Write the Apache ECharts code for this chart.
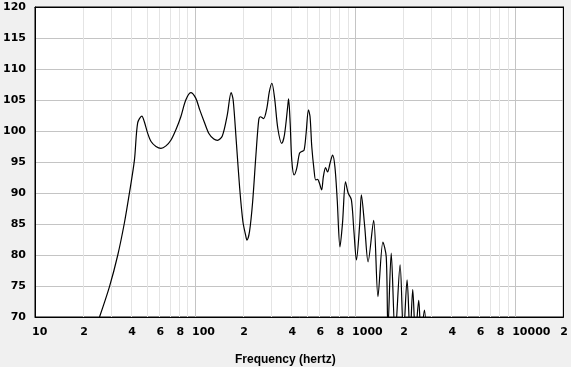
<!DOCTYPE html>
<html>
<head>
<meta charset="utf-8">
<script src="https://cdn.jsdelivr.net/npm/echarts@6/dist/echarts.min.js"></script>
<style>
html, body { margin: 0; padding: 0; background: #f0f0f0; }
#chart { width: 571px; height: 367px; }
</style>
</head>
<body>
<div id="chart"></div>
<script>
// frequency response
const freqHz = [25.3, 29.2, 32.9, 36.2, 38.9, 41.8, 43.8, 46.5, 48.2, 50.5, 53.1, 57.0, 61.2, 65.8, 70.6, 75.9, 81.5, 87.5, 94.0, 101,
  107, 114, 122, 131, 138, 148, 159, 168, 173, 181, 190, 199, 207, 211, 219, 229, 240, 250, 256, 268,
  281, 291, 302, 314, 329, 348, 362, 380, 384, 393, 402, 416, 432, 449, 464, 480, 494, 511, 523, 536,
  554, 567, 583, 598, 618, 633, 654, 673, 697, 723, 748, 773, 804, 834, 871, 905, 948, 982, 1019, 1069,
  1094, 1148, 1205, 1306, 1389, 1492, 1565, 1603, 1681, 1779, 1910, 2005, 2112, 2206, 2291, 2382, 2497, 2582, 2711, 2800]
const levelDb = [70.0, 74.9, 80.0, 85.2, 90.0, 95.3, 101.3, 102.4, 101.5, 99.7, 98.3, 97.5, 97.2, 97.6, 98.5, 100.2, 102.3, 105.0, 106.2, 105.3,
  103.4, 101.5, 99.6, 98.7, 98.5, 99.2, 102.6, 106.2, 105.0, 98.3, 90.8, 85.4, 83.2, 82.4, 83.8, 88.6, 96.1, 101.8, 102.3, 102.0,
  103.7, 106.3, 107.7, 105.3, 100.4, 98.0, 99.4, 104.2, 105.2, 101.2, 95.3, 92.9, 94.0, 96.4, 96.7, 96.9, 99.6, 103.4, 102.3, 97.5,
  93.7, 92.1, 92.2, 91.6, 90.5, 92.6, 94.1, 93.4, 94.8, 96.1, 94.2, 88.9, 81.3, 85.1, 91.8, 90.0, 88.9, 84.0, 79.2, 85.1,
  89.7, 84.6, 78.9, 85.6, 73.3, 82.1, 79.7, 68, 80.3, 67, 78.4, 67, 76.0, 67, 74.4, 67, 72.7, 67, 71.1, 66]

// axis ticks
const xLabelValues = [10, 20, 40, 60, 80, 100, 200, 400, 600, 800, 1000, 2000, 4000, 6000, 8000, 10000, 20000]
const xMinorGrid = [20, 30, 40, 50, 60, 70, 80, 90, 200, 300, 400, 500, 600, 700, 800, 900,
  2000, 3000, 4000, 5000, 6000, 7000, 8000, 9000]
const yMin = 70, yMax = 120, yStep = 5
const xMin = 10, xMax = 20000

const chart = echarts.init(document.getElementById('chart'))

function freqLabel(v) {
    const f = Math.round(Math.pow(10, v))
    const p = Math.pow(10, Math.floor(Math.log10(f) + 1e-9))
    const lead = Math.round(f / p)
    return lead === 1 ? String(f) : String(lead)
}

const labelFont = { color: '#000', fontFamily: 'DejaVu Sans', fontWeight: 'bold', fontSize: 11 }

chart.setOption({
    animation: false,
    backgroundColor: '#f0f0f0',
    title: {
        text: 'Frequency (hertz)',
        left: 235, top: 354, padding: 0,
        textStyle: { color: '#000', fontFamily: 'Liberation Sans', fontWeight: 'bold', fontSize: 12 }
    },
    grid: { left: 35, top: 7, right: 5, bottom: 50, show: true, backgroundColor: '#fff', borderColor: '#000', borderWidth: 1 },
    xAxis: [
        {
            type: 'log', logBase: 10, min: xMin, max: xMax, position: 'bottom',
            axisLine: { lineStyle: { color: '#000', width: 1 } },
            axisTick: { show: false },
            axisLabel: { show: false },
            splitLine: { show: true, lineStyle: { color: '#c4c4c4', width: 1 } }
        },
        {
            type: 'value', min: Math.log10(xMin), max: Math.log10(xMax), position: 'bottom',
            axisLine: { show: false },
            axisTick: { show: false },
            splitLine: { show: false },
            axisLabel: Object.assign({
                margin: 10, align: 'left', padding: [0, 0, 0, -3],
                customValues: xLabelValues.map(Math.log10), formatter: freqLabel
            }, labelFont)
        },
        {
            type: 'log', logBase: 10, min: xMin, max: xMax, position: 'top', z: 5,
            axisLine: { lineStyle: { color: '#000', width: 1 } },
            axisTick: { show: false }, axisLabel: { show: false }, splitLine: { show: false }
        }
    ],
    yAxis: [
        {
            type: 'value', min: yMin, max: yMax, interval: yStep,
            axisLine: { show: true, lineStyle: { color: '#000', width: 1 } },
            axisTick: { show: false },
            axisLabel: Object.assign({ margin: 9 }, labelFont),
            splitLine: { lineStyle: { color: '#c4c4c4', width: 1 } }
        },
        {
            type: 'value', min: yMin, max: yMax, position: 'right', z: 5,
            axisLine: { show: true, lineStyle: { color: '#000', width: 1 } },
            axisTick: { show: false }, axisLabel: { show: false }, splitLine: { show: false }
        }
    ],
    series: [
        {
            name: 'grid',
            type: 'line', xAxisIndex: 0, yAxisIndex: 0, data: [], z: 1, silent: true,
            markLine: {
                silent: true, symbol: 'none', animation: false, z: 1,
                label: { show: false },
                lineStyle: { color: '#e4e4e4', type: 'solid', width: 1 },
                data: xMinorGrid.map(v => ({ xAxis: v }))
            }
        },
        {
            name: 'SPL',
            type: 'line', xAxisIndex: 0, yAxisIndex: 0, z: 3,
            data: freqHz.map((f, i) => [f, levelDb[i]]),
            showSymbol: false, smooth: 0.3,
            lineStyle: { color: '#000', width: 1.2 }
        }
    ]
})
</script>
</body>
</html>
